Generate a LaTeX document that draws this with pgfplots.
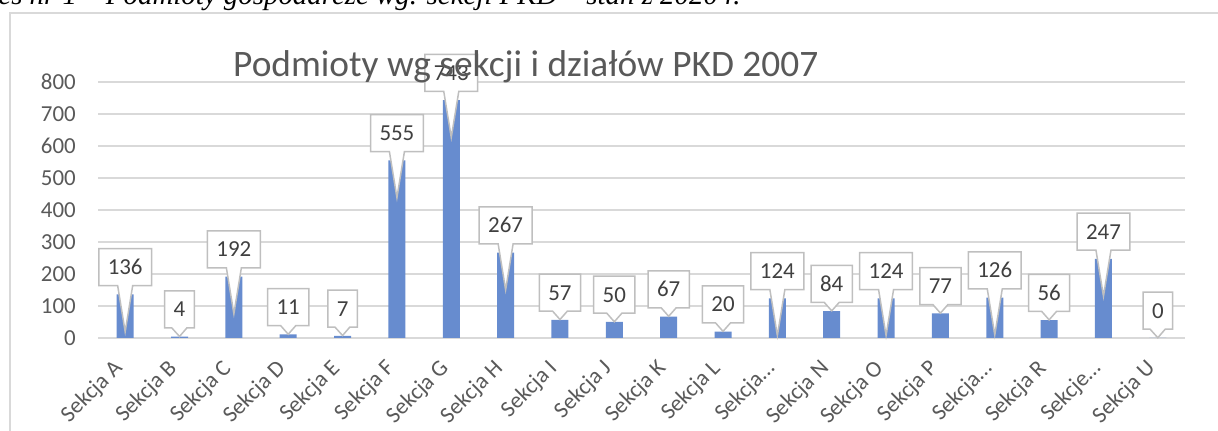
\documentclass[border=0pt]{standalone}
\usepackage{fontspec}
\setmainfont{Carlito}
\newfontfamily\capfont{Liberation Serif}
\usepackage{pgfplots}
\pgfplotsset{compat=1.18}
\usetikzlibrary{shapes.callouts}
\definecolor{barblue}{RGB}{103,140,207}
\definecolor{gridgray}{RGB}{217,217,217}
\definecolor{txtgray}{RGB}{89,89,89}
\definecolor{lblgray}{RGB}{64,64,64}
\definecolor{boxgray}{RGB}{191,191,191}
\begin{document}
\begin{tikzpicture}
\useasboundingbox (0,0) rectangle (1218bp,431bp);
\node[anchor=base west, inner sep=0pt, font=\capfont\itshape\fontsize{29}{34}\selectfont] at (-59bp,426bp) {Wykres nr 1 – Podmioty gospodarcze wg. sekcji PKD – stan z 2020 r.};
\draw[gridgray, line width=1.5bp] (10bp,-20bp) rectangle (1240bp,418bp);
\begin{axis}[
  at={(98bp,93bp)}, anchor=south west, scale only axis,
  width=1087bp, height=256bp,
  xmin=-0.5, xmax=19.5, ymin=0, ymax=800,
  ytick={0,100,...,800},
  xtick={0,...,19},
  xticklabels={Sekcja A,Sekcja B,Sekcja C,Sekcja D,Sekcja E,Sekcja F,Sekcja G,Sekcja H,Sekcja I,Sekcja J,Sekcja K,Sekcja L,Sekcja…,Sekcja N,Sekcja O,Sekcja P,Sekcja…,Sekcja R,Sekcje…,Sekcja U},
  axis line style={draw=none},
  major tick length=0pt,
  ymajorgrids, grid style={gridgray, line width=1.5bp},
  clip=false,
  /pgf/number format/assume math mode=true,
  tick label style={font=\fontsize{23}{27}\selectfont, text=txtgray},
  yticklabel style={anchor=east, inner sep=0pt, xshift=-22bp},
  xticklabel style={inner sep=0pt, xshift=-6bp, yshift=-27bp, rotate=45, anchor=east},
  every node near coord/.append style={rectangle callout, draw=boxgray, line width=1.5bp, fill=white, text=lblgray, font=\fontsize{23}{27}\selectfont, inner xsep=9bp, inner ysep=0pt, minimum height=37bp, text height=15bp, text depth=0pt, anchor=south, yshift=8bp, callout pointer width=15bp},
]
\addplot[ybar, bar width=17bp, fill=barblue, draw=none] coordinates {
(0,136) (1,4) (2,192) (3,11) (4,7) (5,555) (6,743) (7,267) (8,57) (9,50)
(10,67) (11,20) (12,124) (13,84) (14,124) (15,77) (16,126) (17,56) (18,247) (19,0)};
% labels whose pointer reaches well into the bar
\addplot[draw=none, point meta=y, nodes near coords,
  every node near coord/.append style={callout relative pointer={(0pt,-46bp)}}] coordinates {
(0,136) (2,192) (5,555) (6,743) (7,267) (12,124) (14,124) (16,126) (18,247)};
% labels whose pointer stops at the bar top
\addplot[draw=none, point meta=y, nodes near coords,
  every node near coord/.append style={callout relative pointer={(0pt,-8.5bp)}}] coordinates {
(1,4) (3,11) (4,7) (8,57) (9,50) (10,67) (11,20) (13,84) (15,77) (17,56) (19,0)};
\end{axis}
\node[anchor=base west, inner sep=0pt, font=\fontsize{37.5}{42}\selectfont, text=txtgray] at (233bp,354bp) {Podmioty wg sekcji i działów PKD 2007};
\end{tikzpicture}
\end{document}
